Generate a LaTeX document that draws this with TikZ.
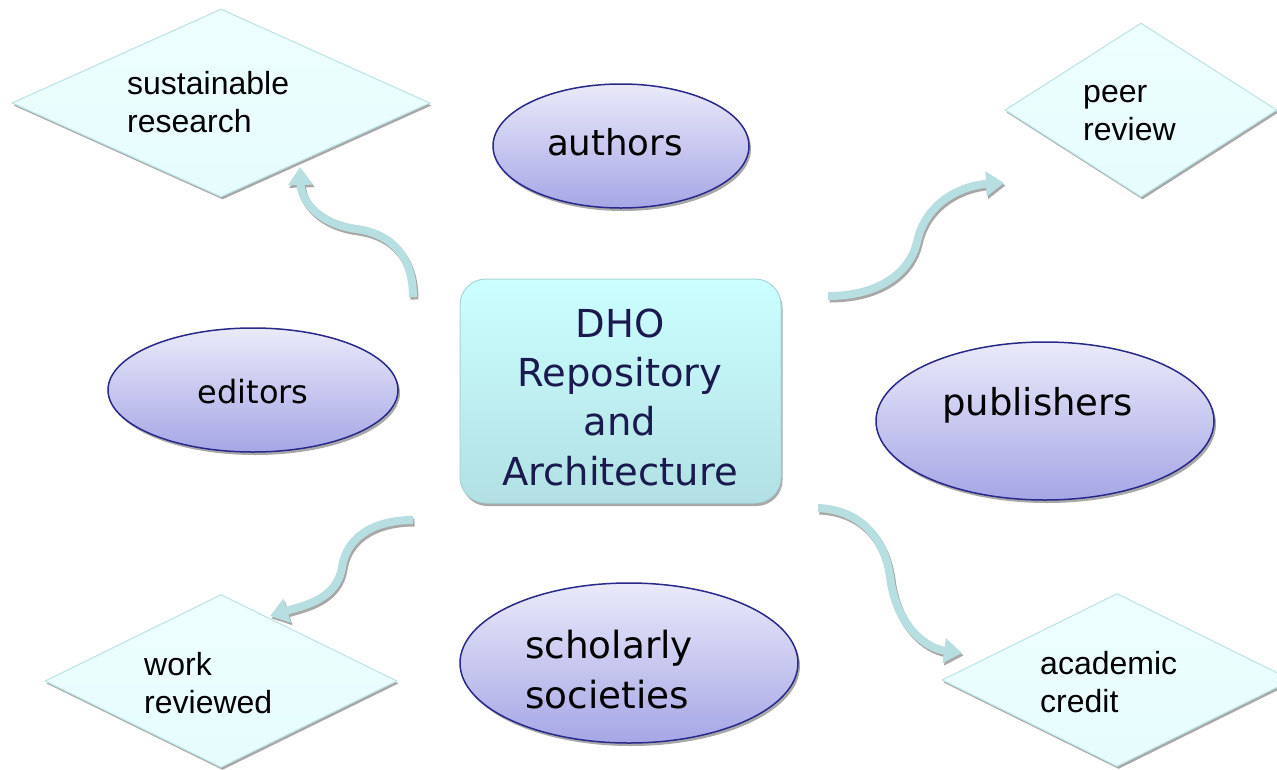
\documentclass[tikz,border=0pt]{standalone}
\usepackage{fontspec}
\setmainfont{DejaVu Sans}
\newfontfamily\arialf{Liberation Sans}
\usetikzlibrary{shapes.geometric,arrows.meta,shadows}
\definecolor{arrowc}{HTML}{B7DEE1}
\definecolor{shadowc}{HTML}{A8A8A8}
\definecolor{ellT}{HTML}{EAEAFA}
\definecolor{ellBot}{HTML}{A6A6E6}
\definecolor{ellB}{HTML}{29298A}
\definecolor{boxT}{HTML}{CCFFFF}
\definecolor{boxBot}{HTML}{B2E0E4}
\definecolor{boxB}{HTML}{A6D6DA}
\definecolor{diaT}{HTML}{EEFFFF}
\definecolor{diaBot}{HTML}{E6FCFD}
\definecolor{diaB}{HTML}{BCE2E5}
\definecolor{navytext}{HTML}{1A1A4E}
\begin{document}
\begin{tikzpicture}[x=1pt,y=-1pt,
  dia/.style={diamond, draw=diaB, line width=1pt, top color=diaT, bottom color=diaBot,
    inner sep=0pt, drop shadow={shadow xshift=1.5pt,shadow yshift=-2.5pt,fill=shadowc,opacity=1}},
  ell/.style={ellipse, draw=ellB, line width=1.5pt, top color=ellT, bottom color=ellBot,
    inner sep=0pt, drop shadow={shadow xshift=2pt,shadow yshift=-3pt,fill=shadowc,opacity=1}},
  hub/.style={rectangle, rounded corners=26pt, draw=boxB, line width=1pt, top color=boxT, bottom color=boxBot,
    inner sep=0pt, drop shadow={shadow xshift=1.5pt,shadow yshift=-3pt,fill=shadowc,opacity=1}},
  diatext/.style={anchor=base west, align=left, inner sep=0pt, font=\arialf\fontsize{32}{37.5}\selectfont},
  elltext/.style={inner sep=0pt, align=left},
  arr/.style={draw=arrowc, line width=8pt, -{Triangle[length=18pt,width=24pt]}},
  arrsh/.style={draw=shadowc, line width=8pt, -{Triangle[length=18pt,width=24pt]},
    transform canvas={xshift=1.5pt,yshift=-2.5pt}}
]
\useasboundingbox (0,0) rectangle (1277,769);
\fill[white] (0,0) rectangle (1277,769);

% diamonds
\node[dia, minimum width=418pt, minimum height=188pt] (sr) at (221,103) {};
\node[dia, minimum width=272pt, minimum height=174pt] (pr) at (1141,110) {};
\node[dia, minimum width=352pt, minimum height=173pt] (wr) at (221,681) {};
\node[dia, minimum width=350pt, minimum height=173pt] (ac) at (1117,680) {};

% (base anchor of a multi-line node = baseline of its last line)
\node[diatext] (srt) at (127,132) {sustainable\\research};
\node[diatext] (prt) at (1083,140) {peer\\review};
\node[diatext] (wrt) at (144,713) {work\\reviewed};
\node[diatext] (act) at (1040,712) {academic\\credit};

% ellipses
\node[ell, minimum width=256pt, minimum height=124pt] (au) at (621,146) {};
\node[ell, minimum width=290pt, minimum height=124pt] (ed) at (253,390) {};
\node[ell, minimum width=338pt, minimum height=158pt] (pu) at (1045,421) {};
\node[ell, minimum width=338pt, minimum height=160pt] (ss) at (629,663) {};

\node[elltext, anchor=base, font=\fontsize{35.6}{44}\selectfont] (aut) at (615,155) {authors};
\node[elltext, anchor=base, font=\fontsize{32}{40}\selectfont] (edt) at (253,403) {editors};
\node[elltext, anchor=base west, font=\fontsize{37}{46}\selectfont] (put) at (942,415) {publishers};
\node[elltext, anchor=base west, font=\fontsize{37.4}{50}\selectfont] (sst) at (525,708) {scholarly\\societies};

% hub
\node[hub, minimum width=321pt, minimum height=224pt] (hb) at (620.5,391) {};
\node[anchor=base, align=center, inner sep=0pt, text=navytext, font=\fontsize{38.5}{49.3}\selectfont] (hbt) at (620,485)
  {DHO\\Repository\\and\\Architecture};

% arrow end points
\coordinate (a1s) at (413,297);
\coordinate (a1m) at (357,229);
\coordinate (a1e) at (300,167);
\coordinate (a2s) at (828,296);
\coordinate (a2m) at (917,242);
\coordinate (a2e) at (1004,183);
\coordinate (a3s) at (413,520);
\coordinate (a3m) at (342,567);
\coordinate (a3e) at (270,616);
\coordinate (a4s) at (818,508);
\coordinate (a4m) at (890,577);
\coordinate (a4e) at (962,653);

\foreach \st in {arrsh,arr}{
  \draw[\st] (a1s) .. controls (413,250) and (385,233) .. (a1m) .. controls (318,224) and (301,200) .. (a1e);
  \draw[\st] (a2s) .. controls (880,296) and (910,272) .. (a2m) .. controls (926,200) and (965,185) .. (a2e);
  \draw[\st] (a3s) .. controls (370,520) and (346,540) .. (a3m) .. controls (337,600) and (302,606) .. (a3e);
  \draw[\st] (a4s) .. controls (862,510) and (885,540) .. (a4m) .. controls (896,625) and (925,648) .. (a4e);
}
\end{tikzpicture}
\end{document}
